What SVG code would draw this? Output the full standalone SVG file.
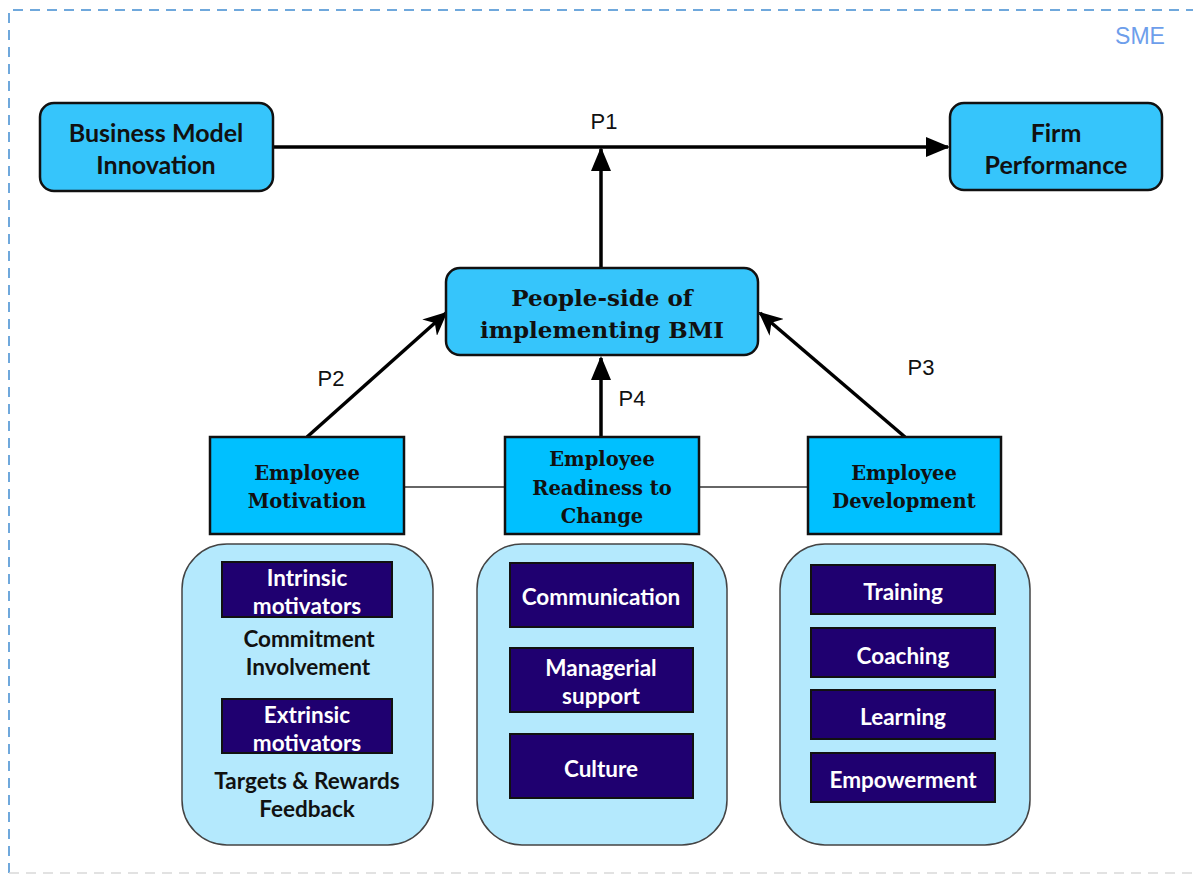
<svg xmlns="http://www.w3.org/2000/svg" width="1193" height="875" viewBox="0 0 1193 875">
<style>
.top{fill:#36c5fb;stroke:#111;stroke-width:2.5}
.emp{fill:#00c0ff;stroke:#111;stroke-width:2.5}
.cont{fill:#b4e9fd;stroke:#444;stroke-width:1.5}
.dk{fill:#1f0070;stroke:#111;stroke-width:2}
.tc{font-family:Lato,"Liberation Sans",sans-serif;font-weight:bold;text-anchor:middle;dominant-baseline:central}
.ts{font-family:"DejaVu Serif","Liberation Serif",serif;font-weight:bold;text-anchor:middle;dominant-baseline:central;fill:#111}
.lbl{font-family:"Liberation Sans",Arial,sans-serif;font-size:22px;text-anchor:middle;dominant-baseline:central;fill:#111}
.w{fill:#fff;font-size:22.5px}
.b{fill:#111;font-size:22.5px}
.big{font-size:25px}
.ar{stroke:#000;stroke-width:3.5;fill:none}
</style>
<defs>
<marker id="tri2" markerWidth="24" markerHeight="20" refX="22" refY="10" orient="auto" markerUnits="userSpaceOnUse" viewBox="0 0 24 20"><path d="M0,0 L24,10 L0,20 z" fill="#000"/></marker>
<marker id="st" markerWidth="24" markerHeight="22" refX="22" refY="11" orient="auto" markerUnits="userSpaceOnUse" viewBox="0 0 24 22"><path d="M0,0 L24,11 L0,22 L7,11 z" fill="#000"/></marker>
</defs>
<g id="sme">
<path d="M9,873 L9,10 L1193,10" fill="none" stroke="#6fa8dc" stroke-width="2" stroke-dasharray="10,7"/>
<path d="M9,873 L1193,873" fill="none" stroke="#d9d9d9" stroke-width="1.5" stroke-dasharray="10,7"/>
<text x="1140" y="36" font-family="Liberation Sans,Arial,sans-serif" font-size="23" fill="#6d9eeb" text-anchor="middle" dominant-baseline="central">SME</text>
</g>
<g id="connectors">
<line class="ar" x1="273" y1="147" x2="948" y2="147" marker-end="url(#tri2)"/>
<line class="ar" x1="601" y1="268" x2="601" y2="149" marker-end="url(#tri2)"/>
<line class="ar" x1="307" y1="437" x2="446" y2="313" marker-end="url(#st)"/>
<line class="ar" x1="905" y1="437" x2="760" y2="313" marker-end="url(#st)"/>
<line class="ar" x1="601" y1="437" x2="601" y2="358" marker-end="url(#tri2)"/>
<line x1="404" y1="487" x2="505" y2="487" stroke="#333" stroke-width="1.5"/>
<line x1="699" y1="487" x2="808" y2="487" stroke="#333" stroke-width="1.5"/>
<text class="lbl" x="604" y="121">P1</text>
<text class="lbl" x="331" y="378">P2</text>
<text class="lbl" x="921" y="367">P3</text>
<text class="lbl" x="632" y="398">P4</text>
</g>
<g id="bmi">
<rect class="top" x="40" y="103" width="233" height="88" rx="14"/>
<text class="tc b big" x="156" y="132">Business Model</text>
<text class="tc b big" x="156" y="164">Innovation</text>
</g>
<g id="firm">
<rect class="top" x="950" y="103" width="212" height="87" rx="14"/>
<text class="tc b big" x="1056" y="132">Firm</text>
<text class="tc b big" x="1056" y="164">Performance</text>
</g>
<g id="people">
<rect class="top" x="446" y="268" width="312" height="87" rx="14"/>
<text class="ts" x="602" y="297" font-size="23">People-side of</text>
<text class="ts" x="602" y="329" font-size="23">implementing BMI</text>
</g>
<g id="motivation">
<rect class="emp" x="210" y="437" width="194" height="97"/>
<text class="ts" x="307" y="473" font-size="19.5">Employee</text>
<text class="ts" x="307" y="501" font-size="19.5">Motivation</text>
</g>
<g id="readiness">
<rect class="emp" x="505" y="437" width="194" height="97"/>
<text class="ts" x="602" y="459" font-size="19.5">Employee</text>
<text class="ts" x="602" y="488" font-size="19.5">Readiness to</text>
<text class="ts" x="602" y="516" font-size="19.5">Change</text>
</g>
<g id="development">
<rect class="emp" x="808" y="437" width="193" height="97"/>
<text class="ts" x="904" y="473" font-size="19.5">Employee</text>
<text class="ts" x="904" y="501" font-size="19.5">Development</text>
</g>
<g id="motivation-factors">
<rect class="cont" x="182" y="544" width="251" height="301" rx="45"/>
<rect class="dk" x="222" y="562" width="170" height="55"/>
<text class="tc w" x="307" y="577">Intrinsic</text>
<text class="tc w" x="307" y="605">motivators</text>
<text class="tc b" x="309" y="638">Commitment</text>
<text class="tc b" x="308" y="666">Involvement</text>
<rect class="dk" x="222" y="699" width="170" height="54"/>
<text class="tc w" x="307" y="714">Extrinsic</text>
<text class="tc w" x="307" y="742">motivators</text>
<text class="tc b" x="307" y="780">Targets &amp; Rewards</text>
<text class="tc b" x="307" y="808">Feedback</text>
</g>
<g id="readiness-factors">
<rect class="cont" x="477" y="544" width="250" height="301" rx="45"/>
<rect class="dk" x="510" y="563" width="183" height="64"/>
<text class="tc w" x="601" y="596">Communication</text>
<rect class="dk" x="510" y="648" width="183" height="64"/>
<text class="tc w" x="601" y="667">Managerial</text>
<text class="tc w" x="601" y="695">support</text>
<rect class="dk" x="510" y="734" width="183" height="64"/>
<text class="tc w" x="601" y="768">Culture</text>
</g>
<g id="development-factors">
<rect class="cont" x="780" y="544" width="250" height="301" rx="45"/>
<rect class="dk" x="811" y="565" width="184" height="49"/>
<text class="tc w" x="903" y="591">Training</text>
<rect class="dk" x="811" y="628" width="184" height="49"/>
<text class="tc w" x="903" y="655">Coaching</text>
<rect class="dk" x="811" y="690" width="184" height="49"/>
<text class="tc w" x="903" y="716">Learning</text>
<rect class="dk" x="811" y="753" width="184" height="49"/>
<text class="tc w" x="903" y="779">Empowerment</text>
</g>
</svg>
